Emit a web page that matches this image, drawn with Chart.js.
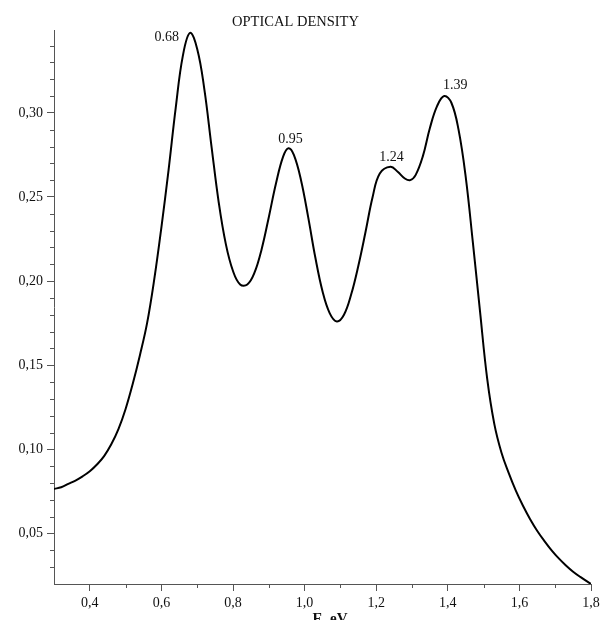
<!DOCTYPE html>
<html>
<head>
<meta charset="utf-8">
<script src="https://cdn.jsdelivr.net/npm/chart.js@4.4.0/dist/chart.umd.min.js"></script>
<style>
  body { margin: 0; background: #fff; }
  #wrap { width: 601px; height: 620px; }
</style>
</head>
<body>
<div id="wrap"><canvas id="chart" width="601" height="620"></canvas></div>
<script>
// photon energy, eV
const energy = [
  0.30, 0.32, 0.34, 0.36, 0.38, 0.40, 0.42, 0.44, 0.46, 0.48,
  0.50, 0.52, 0.54, 0.56, 0.58, 0.60, 0.62, 0.64, 0.66, 0.68,
  0.70, 0.72, 0.74, 0.76, 0.78, 0.80, 0.82, 0.84, 0.86, 0.88,
  0.90, 0.92, 0.94, 0.955, 0.97, 0.99, 1.01, 1.03, 1.05, 1.07,
  1.09, 1.11, 1.13, 1.15, 1.17, 1.19, 1.21, 1.24, 1.26, 1.28,
  1.295, 1.31, 1.33, 1.35, 1.37, 1.39, 1.41, 1.43, 1.45, 1.47,
  1.49, 1.51, 1.53, 1.55, 1.57, 1.59, 1.61, 1.63, 1.65, 1.67,
  1.69, 1.71, 1.73, 1.75, 1.77, 1.80
]
// optical density
const density = [
  0.0765, 0.0775, 0.0795, 0.0815, 0.084, 0.087, 0.091, 0.096, 0.103, 0.112,
  0.124, 0.139, 0.156, 0.175, 0.201, 0.232, 0.266, 0.303, 0.334, 0.3475,
  0.338, 0.314, 0.280, 0.247, 0.222, 0.206, 0.198, 0.198, 0.205, 0.219,
  0.238, 0.258, 0.274, 0.279, 0.275, 0.260, 0.238, 0.214, 0.194, 0.181,
  0.176, 0.180, 0.192, 0.209, 0.229, 0.250, 0.264, 0.268, 0.265, 0.261,
  0.260, 0.263, 0.274, 0.291, 0.304, 0.310, 0.306, 0.290, 0.262, 0.223,
  0.182, 0.142, 0.115, 0.098, 0.086, 0.0755, 0.0665, 0.0585, 0.0515, 0.0455,
  0.0400, 0.0352, 0.0310, 0.0273, 0.0242, 0.0200
]
// labelled peaks
const peakE = [0.68, 0.955, 1.24, 1.39]
const peakText = ['0.68', '0.95', '1.24', '1.39']
const peakOD = [0.3475, 0.279, 0.268, 0.310]

const xTicks = [0.4, 0.6, 0.8, 1.0, 1.2, 1.4, 1.6, 1.8]
const xMinorTicks = [0.5, 0.7, 0.9, 1.1, 1.3, 1.5, 1.7]
const yTicks = [0.05, 0.10, 0.15, 0.20, 0.25, 0.30]
const yMinorTicks = [0.03, 0.04, 0.06, 0.07, 0.08, 0.09, 0.11, 0.12, 0.13, 0.14,
  0.16, 0.17, 0.18, 0.19, 0.21, 0.22, 0.23, 0.24, 0.26, 0.27, 0.28, 0.29,
  0.31, 0.32, 0.33, 0.34]

const serif = 'Liberation Serif'
const axisColor = '#555'
const textColor = '#111'

// short ticks between the labelled ones + "E, eV" caption
const minorTicks = {
  id: 'minorTicks',
  afterDraw(chart){
    const ctx = chart.ctx
    const xs = chart.scales.x, ys = chart.scales.y
    ctx.save()
    ctx.strokeStyle = axisColor
    ctx.lineWidth = 1
    ctx.beginPath()
    xMinorTicks.forEach(v => {
      const px = Math.round(xs.getPixelForValue(v)) + 0.5
      ctx.moveTo(px, xs.top)
      ctx.lineTo(px, xs.top + 4)
    })
    yMinorTicks.forEach(v => {
      const py = Math.round(ys.getPixelForValue(v)) + 0.5
      ctx.moveTo(ys.right - 4, py)
      ctx.lineTo(ys.right, py)
    })
    ctx.stroke()

    ctx.fillStyle = textColor
    ctx.font = 'bold 15px "' + serif + '"'
    ctx.textAlign = 'center'
    ctx.textBaseline = 'top'
    ctx.fillText('E, eV', 330, 612)
    ctx.restore()
  }
}

// peak captions, offsets in px from the peak point
const peakLabels = {
  id: 'peakLabels',
  afterDatasetsDraw(chart){
    const ctx = chart.ctx
    const xs = chart.scales.x, ys = chart.scales.y
    const off = [[-11, 4], [2, -9], [1, -9], [11, -11]]
    ctx.save()
    ctx.fillStyle = textColor
    ctx.font = '14px "' + serif + '"'
    ctx.textBaseline = 'middle'
    peakE.forEach((e, i) => {
      const px = xs.getPixelForValue(e)
      const py = ys.getPixelForValue(peakOD[i])
      ctx.textAlign = i === 0 ? 'right' : 'center'
      ctx.fillText(peakText[i], px + off[i][0], py + off[i][1])
    })
    ctx.restore()
  }
}

new Chart(document.getElementById('chart'), {
  type: 'line',
  data: {
    datasets: [{
      data: energy.map((e, i) => ({ x: e, y: density[i] })),
      borderColor: '#000',
      borderWidth: 2,
      pointRadius: 0,
      fill: false,
      tension: 0.4
    }]
  },
  options: {
    responsive: false,
    animation: false,
    layout: { padding: { left: 0, right: 10, top: 0, bottom: 0 } },
    plugins: {
      legend: { display: false },
      tooltip: { enabled: false },
      title: {
        display: true,
        text: 'OPTICAL DENSITY',
        color: textColor,
        font: { family: serif, size: 14.5, weight: 'normal' },
        padding: { top: 13, bottom: 0 }
      }
    },
    scales: {
      x: {
        type: 'linear',
        min: 0.3,
        max: 1.8,
        afterBuildTicks: s => { s.ticks = xTicks.map(v => ({ value: v })) },
        afterFit: s => { s.height = 36; s.paddingLeft = 0; s.paddingRight = 0 },
        ticks: {
          autoSkip: false,
          maxRotation: 0,
          padding: 4,
          color: textColor,
          font: { family: serif, size: 14 },
          callback: v => v.toFixed(1).replace('.', ',')
        },
        grid: { drawOnChartArea: false, tickLength: 7, tickColor: axisColor },
        border: { color: axisColor, width: 1 }
      },
      y: {
        min: 0.02,
        max: 0.349,
        afterBuildTicks: s => { s.ticks = yTicks.map(v => ({ value: v })) },
        afterFit: s => { s.width = 54; s.paddingTop = 0; s.paddingBottom = 0 },
        ticks: {
          padding: 4,
          color: textColor,
          font: { family: serif, size: 14 },
          callback: v => v.toFixed(2).replace('.', ',')
        },
        grid: { drawOnChartArea: false, tickLength: 7, tickColor: axisColor },
        border: { color: axisColor, width: 1 }
      }
    }
  },
  plugins: [minorTicks, peakLabels]
})
</script>
</body>
</html>
